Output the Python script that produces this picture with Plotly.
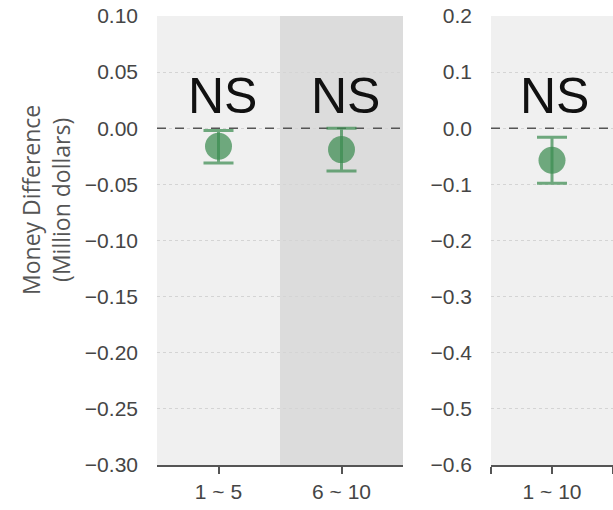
import plotly.graph_objects as go

# ---------------- data ----------------
left_categories = ["1 ~ 5", "6 ~ 10"]
left_means = [-0.016, -0.019]
left_upper = [-0.002, 0.000]
left_lower = [-0.031, -0.038]
left_labels = ["NS", "NS"]
left_label_y = [0.029, 0.029]
left_yticks = [0.10, 0.05, 0.00, -0.05, -0.10, -0.15, -0.20, -0.25, -0.30]

right_categories = ["1 ~ 10"]
right_means = [-0.057]
right_upper = [-0.016]
right_lower = [-0.098]
right_labels = ["NS"]
right_label_y = [0.057]
right_yticks = [0.2, 0.1, 0.0, -0.1, -0.2, -0.3, -0.4, -0.5, -0.6]

reference_value = 0.0
y_title = "Money Difference<br>(Million dollars)"

# ---------------- styles ----------------
W, H = 613, 510
GREEN = "rgba(60,140,80,0.72)"
AXIS = "#555555"
TICKFONT = dict(family="Liberation Sans, Arial, sans-serif", size=21, color="#454545")
BG_LIGHT = "#f0f0f0"
BG_DARK = "#dcdcdc"

def px_x(p):
    return p / W

def px_y(p):
    return 1 - p / H

fig = go.Figure()

left_x = list(range(len(left_categories)))
right_x = list(range(len(right_categories)))

# zero reference lines (drawn first, under the markers)
fig.add_trace(go.Scatter(
    x=[-0.5, len(left_x) - 0.5], y=[reference_value, reference_value], mode="lines",
    xaxis="x", yaxis="y", line=dict(color="#555555", width=1.5, dash="dash"),
    showlegend=False, hoverinfo="skip"))
fig.add_trace(go.Scatter(
    x=[-0.5, len(right_x) - 0.5], y=[reference_value, reference_value], mode="lines",
    xaxis="x2", yaxis="y2", line=dict(color="#555555", width=1.5, dash="dash"),
    showlegend=False, hoverinfo="skip"))

fig.add_trace(go.Scatter(
    x=left_x, y=left_means, mode="markers", xaxis="x", yaxis="y",
    marker=dict(size=27, color=GREEN),
    error_y=dict(type="data", symmetric=False,
                 array=[u - m for u, m in zip(left_upper, left_means)],
                 arrayminus=[m - l for m, l in zip(left_means, left_lower)],
                 thickness=3, width=15, color=GREEN),
    showlegend=False, hoverinfo="skip"))

fig.add_trace(go.Scatter(
    x=right_x, y=right_means, mode="markers", xaxis="x2", yaxis="y2",
    marker=dict(size=27, color=GREEN),
    error_y=dict(type="data", symmetric=False,
                 array=[u - m for u, m in zip(right_upper, right_means)],
                 arrayminus=[m - l for m, l in zip(right_means, right_lower)],
                 thickness=3, width=15, color=GREEN),
    showlegend=False, hoverinfo="skip"))

shapes = []
bg_cols = [BG_LIGHT, BG_DARK]
for i in left_x:
    shapes.append(dict(type="rect", xref="x", yref="y domain", x0=i - 0.5, x1=i + 0.5,
                       y0=0, y1=1, fillcolor=bg_cols[i % 2], line=dict(width=0), layer="below"))
for i in right_x:
    shapes.append(dict(type="rect", xref="x2", yref="y2 domain", x0=i - 0.5, x1=i + 0.5,
                       y0=0, y1=1, fillcolor=bg_cols[i % 2], line=dict(width=0), layer="below"))

NSFONT = dict(family="Liberation Sans, Arial, sans-serif", size=50, color="#111111")
annotations = []
for i, (t, yv) in enumerate(zip(left_labels, left_label_y)):
    annotations.append(dict(x=i, y=yv, xref="x", yref="y", text=t, showarrow=False,
                            font=NSFONT, xanchor="center", yanchor="middle", xshift=4))
for i, (t, yv) in enumerate(zip(right_labels, right_label_y)):
    annotations.append(dict(x=i, y=yv, xref="x2", yref="y2", text=t, showarrow=False,
                            font=NSFONT, xanchor="center", yanchor="middle", xshift=2))
annotations.append(dict(x=px_x(46), y=px_y(200), xref="paper", yref="paper", text=y_title,
                        textangle=-90, showarrow=False, xanchor="center", yanchor="middle",
                        font=dict(family="Open Sans, sans-serif", size=23, color="#555555")))

grid = dict(showgrid=True, gridcolor="#d4d4d4", griddash="dot", gridwidth=1, zeroline=False)

fig.update_layout(
    width=W, height=H, margin=dict(l=0, r=0, t=0, b=0, autoexpand=False),
    paper_bgcolor="white", plot_bgcolor="white",
    shapes=shapes, annotations=annotations,
    xaxis=dict(domain=[px_x(157), px_x(403)], range=[-0.5, len(left_x) - 0.5],
               tickvals=left_x, ticktext=left_categories, ticks="outside", ticklen=7,
               tickwidth=2, tickcolor=AXIS, showline=True, linecolor=AXIS, linewidth=2,
               showgrid=False, zeroline=False, tickfont=TICKFONT, anchor="y", automargin=False),
    yaxis=dict(domain=[px_y(465), px_y(16)], range=[left_yticks[-1], left_yticks[0]],
               tickvals=left_yticks, tickformat=".2f", ticks="", ticklabelstandoff=18,
               showline=False, tickfont=TICKFONT, anchor="x", automargin=False, **grid),
    xaxis2=dict(domain=[px_x(491), 1.0], range=[-0.5, len(right_x) - 0.5],
                tickvals=[-0.5] + right_x + [len(right_x) - 0.5],
                ticktext=[""] + right_categories + [""], ticks="outside", ticklen=7,
                tickwidth=2, tickcolor=AXIS, showline=True, linecolor=AXIS, linewidth=2,
                showgrid=False, zeroline=False, tickfont=TICKFONT, anchor="y2", automargin=False),
    yaxis2=dict(domain=[px_y(465), px_y(16)], range=[right_yticks[-1], right_yticks[0]],
                tickvals=right_yticks, tickformat=".1f", ticks="", ticklabelstandoff=18,
                showline=False, tickfont=TICKFONT, anchor="x2", automargin=False, **grid),
)

fig.write_html("out.html")
